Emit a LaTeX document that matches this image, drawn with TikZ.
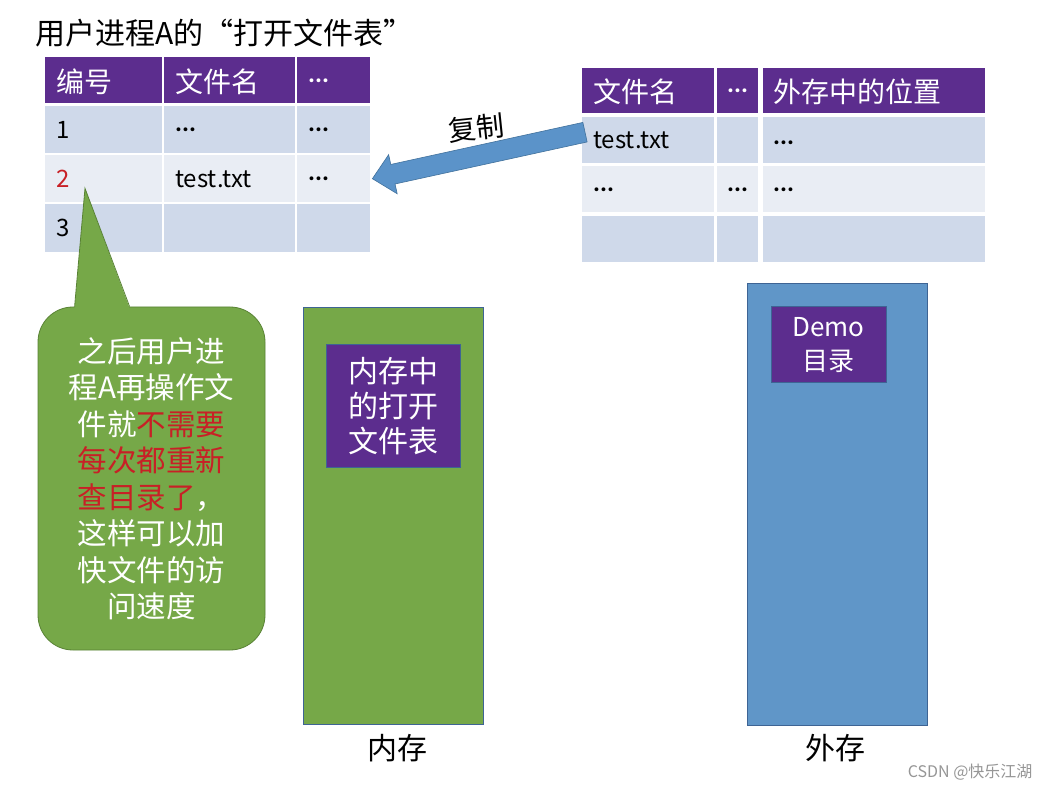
\documentclass[tikz,border=0pt]{standalone}
\usepackage{fontspec}
\setmainfont{Noto Sans CJK SC}
\newfontfamily\latinfont{Carlito}
\usetikzlibrary{calc}
\definecolor{hdrpurple}{RGB}{92,45,142}
\definecolor{rowA}{RGB}{207,217,234}
\definecolor{rowB}{RGB}{233,237,244}
\definecolor{notegreen}{RGB}{118,168,72}
\definecolor{noteedge}{RGB}{88,130,52}
\definecolor{diskblue}{RGB}{96,150,200}
\definecolor{diskedge}{RGB}{62,100,148}
\definecolor{arrowblue}{RGB}{91,147,201}
\definecolor{arrowedge}{RGB}{65,113,156}
\definecolor{warnred}{RGB}{200,32,38}
\definecolor{markgray}{RGB}{150,150,150}
\newcommand{\bigcjk}{\fontsize{28pt}{36.5pt}\selectfont}
\newcommand{\notefont}{\fontsize{29.5pt}{36.5pt}\selectfont}
\newcommand{\capfont}{\fontsize{30pt}{35pt}\selectfont}
\newcommand{\rowfont}{\fontsize{24pt}{28pt}\selectfont}
\newcommand{\cellgap}{{\latinfont\bfseries\fontsize{26pt}{28pt}\selectfont ...}}
\tikzset{
  cell/.style={anchor=north west, inner xsep=11pt, inner ysep=0pt, align=left, text depth=0pt},
  hdr/.style={cell, fill=hdrpurple, text=white, font=\bigcjk},
  rowa/.style={cell, fill=rowA, text=black, font=\rowfont},
  rowb/.style={cell, fill=rowB, text=black, font=\rowfont},
  bar/.style={draw=diskedge, line width=0.8pt, inner sep=0pt},
  tag/.style={fill=hdrpurple, draw=diskedge, line width=0.6pt, text=white, align=center, inner sep=0pt},
  caption/.style={font=\capfont, text=black},
}
\begin{document}
\begin{tikzpicture}[x=1pt, y=-1pt]
\useasboundingbox (0,0) rectangle (1050,791);
\fill[white] (0,0) rectangle (1050,791);

% heading of the per-process table
\node[anchor=west, font=\capfont, inner sep=0pt] (title) at (35,33) {用户进程A的“打开文件表”};

% per-process open file table
\node[hdr, text width=95pt, minimum height=46pt] (L00) at (45,57) {编号};
\node[hdr, text width=109pt, minimum height=46pt] (L01) at (164,57) {文件名};
\node[hdr, text width=51pt, minimum height=46pt] (L02) at (297,57) {\cellgap};
\node[rowa, text width=95pt, minimum height=47pt] (L10) at (45,106) {1};
\node[rowa, text width=109pt, minimum height=47pt] (L11) at (164,106) {\cellgap};
\node[rowa, text width=51pt, minimum height=47pt] (L12) at (297,106) {\cellgap};
\node[rowb, text width=95pt, minimum height=47pt] (L20) at (45,155) {\textcolor{warnred}{2}};
\node[rowb, text width=109pt, minimum height=47pt] (L21) at (164,155) {test.txt};
\node[rowb, text width=51pt, minimum height=47pt] (L22) at (297,155) {\cellgap};
\node[rowa, text width=95pt, minimum height=48pt] (L30) at (45,204) {3};
\node[rowa, text width=109pt, minimum height=48pt] (L31) at (164,204) {};
\node[rowa, text width=51pt, minimum height=48pt] (L32) at (297,204) {};

% directory table in external storage
\node[hdr, text width=110pt, minimum height=45pt] (R00) at (582,68) {文件名};
\node[hdr, text width=21pt, inner xsep=10pt, minimum height=45pt] (R01) at (717,68) {\cellgap};
\node[hdr, text width=202pt, inner xsep=10pt, minimum height=45pt] (R02) at (763,68) {外存中的位置};
\node[rowa, text width=110pt, minimum height=46pt] (R10) at (582,117) {test.txt};
\node[rowa, text width=21pt, inner xsep=10pt, minimum height=46pt] (R11) at (717,117) {};
\node[rowa, text width=202pt, inner xsep=10pt, minimum height=46pt] (R12) at (763,117) {\raisebox{-4pt}{\cellgap}};
\node[rowb, text width=110pt, minimum height=46pt] (R20) at (582,166) {\cellgap};
\node[rowb, text width=21pt, inner xsep=10pt, minimum height=46pt] (R21) at (717,166) {\cellgap};
\node[rowb, text width=202pt, inner xsep=10pt, minimum height=46pt] (R22) at (763,166) {\cellgap};
\node[rowa, text width=110pt, minimum height=46pt] (R30) at (582,216) {};
\node[rowa, text width=21pt, inner xsep=10pt, minimum height=46pt] (R31) at (717,216) {};
\node[rowa, text width=202pt, inner xsep=10pt, minimum height=46pt] (R32) at (763,216) {};

% block arrow: the entry is copied into the process table
\coordinate (T) at ($(R10.west)+(3,-8)$);
\coordinate (P) at ($(L22.east)+(2,0)$);
\coordinate (H) at ($(P)!21pt!(T)$);
\draw[fill=arrowblue, draw=arrowedge, line width=0.6pt, line join=miter]
  ($(T)!10pt!90:(P)$) -- ($(H)!10pt!-90:(T)$) -- ($(H)!20pt!-90:(T)$) -- (P)
  -- ($(H)!20pt!90:(T)$) -- ($(H)!10pt!90:(T)$) -- ($(T)!10pt!-90:(P)$) -- cycle;
\node[font=\fontsize{28pt}{30pt}\selectfont, rotate=6, inner sep=1pt] (copy) at (476,128) {复制};

% speech bubble with the note
\node[fill=notegreen, draw=noteedge, line width=0.8pt, rounded corners=35pt,
      minimum width=227pt, minimum height=343pt, inner sep=0pt,
      text=white, align=center, font=\notefont] (note) at (151.5,478.5)
  {之后用户进\\程A再操作文\\件就\textcolor{warnred}{不需要}\\\textcolor{warnred}{每次都重新}\\\textcolor{warnred}{查目录了}，\\这样可以加\\快文件的访\\问速度};
\coordinate (tipL) at ($(note.north west)+(37,1.5)$);
\coordinate (tipR) at ($(note.north west)+(92,1.5)$);
\coordinate (tip) at ($(L20.south west)+(40,-14)$);
\fill[notegreen] (tipL) -- (tip) -- (tipR) -- cycle;
\draw[noteedge, line width=0.8pt] ($(tipL)+(0,-1.5)$) -- (tip) -- ($(tipR)+(0,-1.5)$);

% main memory
\node[bar, fill=notegreen, minimum width=180pt, minimum height=417pt] (mem) at (393,515.5) {};
\node[tag, minimum width=134pt, minimum height=123pt, font=\fontsize{30pt}{35pt}\selectfont] (memtab) at ($(mem.north)+(0,99.5)$) {内存中\\的打开\\文件表};
\node[caption] (memlbl) at ($(mem.south)+(4,24)$) {内存};

% external storage
\node[bar, fill=diskblue, minimum width=180pt, minimum height=442pt] (disk) at (837,504) {};
\node[tag, minimum width=115pt, minimum height=76pt, font=\fontsize{26pt}{34pt}\selectfont] (dir) at ($(disk.north)+(-8.5,62)$) {Demo\\目录};
\node[caption] (disklbl) at ($(disk.south)+(-2,23)$) {外存};

% source mark
\node[text=markgray, font=\fontsize{16pt}{18pt}\selectfont, anchor=east] (mark) at (1036,772) {CSDN @快乐江湖};
\end{tikzpicture}
\end{document}
